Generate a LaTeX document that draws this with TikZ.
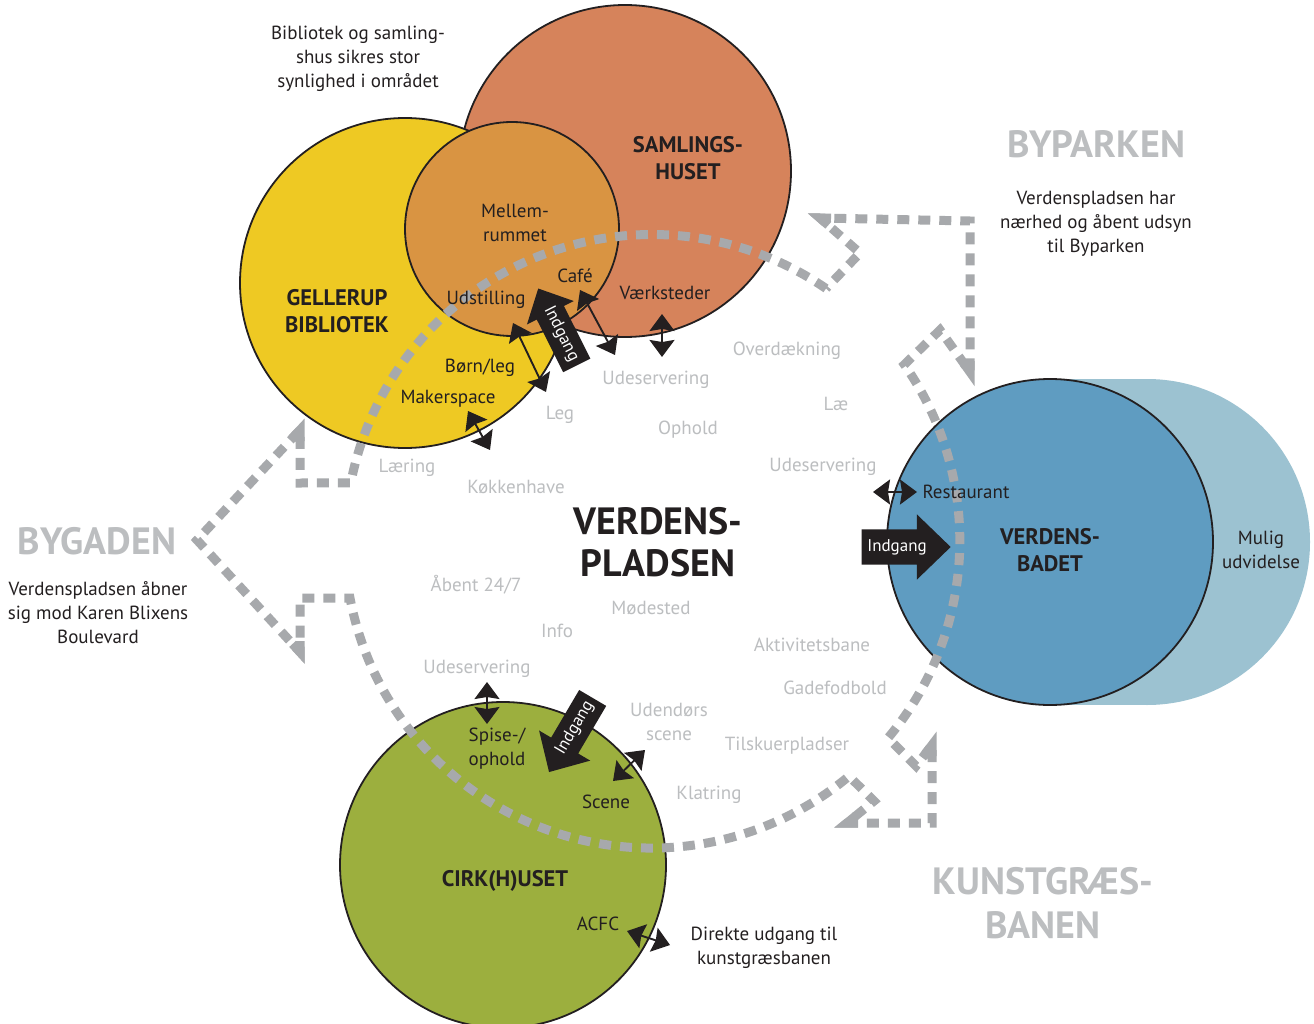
\documentclass[tikz,border=0pt]{standalone}
\usepackage{fontspec}
\setmainfont{PT Sans}
\usetikzlibrary{arrows.meta,shapes.arrows,calc}
\definecolor{samling}{HTML}{D6835B}
\definecolor{gelb}{HTML}{EEC923}
\definecolor{mellem}{HTML}{D99442}
\definecolor{badet}{HTML}{5F9CC1}
\definecolor{badetlys}{HTML}{9CC2D1}
\definecolor{cirk}{HTML}{9CAF3E}
\definecolor{ink}{HTML}{231F20}
\definecolor{pathgray}{HTML}{A7A9AC}
\definecolor{labgray}{HTML}{BCBEC0}
\begin{document}
\begin{tikzpicture}[x=1pt,y=-1pt,
  zone/.style={circle, draw=ink, line width=1.8pt, inner sep=0pt, outer sep=0pt},
  lbl/.style={text=ink, font=\fontsize{19}{24}\selectfont, align=center, inner sep=0pt},
  glbl/.style={text=labgray, font=\fontsize{19}{24}\selectfont, align=center, inner sep=0pt},
  hd/.style={text=ink, font=\bfseries\fontsize{22.5}{27}\selectfont, align=center, inner sep=0pt},
  bighd/.style={text=ink, font=\bfseries\fontsize{38}{42}\selectfont, align=center, inner sep=0pt},
  ghd/.style={text=labgray, font=\bfseries\fontsize{38}{44}\selectfont, align=center, inner sep=0pt},
  dbl/.style={draw=ink, line width=1.9pt, {Stealth[length=17pt,width=25pt,inset=2pt]}-{Stealth[length=17pt,width=25pt,inset=2pt]}},
  gate/.style={single arrow, fill=ink, text=white, font=\fontsize{17}{18}\selectfont,
    inner xsep=4pt, text height=12pt, text depth=4pt, single arrow tip angle=88},
  vpath/.style={draw=pathgray, line width=9pt, dash pattern=on 12pt off 9pt},
  tipc/.style={draw=pathgray, line width=9pt, line join=miter, miter limit=12}
]
\clip (0,0) rectangle (1314,1024);
\useasboundingbox (0,0) rectangle (1314,1024);
\fill[white] (0,0) rectangle (1314,1024);

% zones
\node[zone, fill=samling, minimum size=332pt] (samling) at (625,171) {};
\node[zone, fill=gelb, minimum size=330pt] (biblio) at (405,283) {};
\node[zone, fill=mellem, minimum size=214pt] (mellem) at (512,229) {};
\fill[badetlys] (1050,379) rectangle (1147,705);
\fill[badetlys] (1147,542) circle (163);
\node[zone, fill=badet, minimum size=326pt] (badet) at (1050,542) {};
\node[zone, fill=cirk, minimum size=326pt] (cirk) at (503,865) {};

% Verdenspladsen dashed boundary
\draw[vpath] (826,288.5) arc[start angle=-55.5, end angle=-169, radius=307]
  -- (300,483) -- (300,430) -- (197,540) -- (300,652) -- (300,598) -- (350,598)
  arc[start angle=169.3, end angle=50, radius=307]
  -- (874,801) -- (847,823) -- (932,823) -- (932,745) -- (916,766) -- (888,738)
  arc[start angle=40, end angle=-35, radius=307]
  -- (940,330) -- (970,372) -- (970,221) -- (820,218) -- (860,253) -- cycle;
% sharp corners
\coordinate (c1) at (300,430);
\coordinate (c2) at (300,652);
\coordinate (c3) at (820,218);
\coordinate (c4) at (970,372);
\coordinate (c5) at (932,745);
\coordinate (c6) at (847,823);
\draw[tipc] ($(c1)!11pt!(300,483)$) -- (c1) -- ($(c1)!11pt!(197,540)$);
\draw[tipc] ($(c2)!11pt!(300,598)$) -- (c2) -- ($(c2)!11pt!(197,540)$);
\draw[tipc] ($(c3)!11pt!(970,221)$) -- (c3) -- ($(c3)!11pt!(860,253)$);
\draw[tipc] ($(c4)!11pt!(970,221)$) -- (c4) -- ($(c4)!11pt!(940,330)$);
\draw[tipc] ($(c5)!11pt!(932,823)$) -- (c5) -- ($(c5)!11pt!(916,766)$);
\draw[tipc] ($(c6)!11pt!(932,823)$) -- (c6) -- ($(c6)!11pt!(874,801)$);

% entrance arrows
\node[gate, rotate=-63.4, shape border rotate=180, inner ysep=7pt,
  minimum height=86pt, single arrow head extend=11pt] (indbib) at (561,334) {Indgang};
\node[gate, inner ysep=9.5pt, minimum height=89pt, single arrow head extend=15pt]
  (indbad) at (897,547) {Indgang};
\node[gate, rotate=59.5, shape border rotate=180, inner ysep=7.5pt,
  minimum height=86pt, single arrow head extend=14pt] (indcirk) at (575,728) {Indgang};

% double arrows
\coordinate (a1s) at (513,323); \coordinate (a1e) at (546,392);
\coordinate (a2s) at (580,290); \coordinate (a2e) at (615,355);
\coordinate (a3s) at (662,314); \coordinate (a3e) at (662,357);
\coordinate (a4s) at (468,411); \coordinate (a4e) at (490,450);
\coordinate (a5s) at (873,492); \coordinate (a5e) at (917,492);
\coordinate (a6s) at (487,682); \coordinate (a6e) at (487,724);
\coordinate (a7s) at (613,781); \coordinate (a7e) at (645,750);
\coordinate (a8s) at (627,931); \coordinate (a8e) at (670,945);
\draw[dbl] (a1s) -- (a1e);
\draw[dbl] (a2s) -- (a2e);
\draw[dbl] (a3s) -- (a3e);
\draw[dbl] (a4s) -- (a4e);
\draw[dbl] (a5s) -- (a5e);
\draw[dbl] (a6s) -- (a6e);
\draw[dbl] (a7s) -- (a7e);
\draw[dbl] (a8s) -- (a8e);

% dark labels
\node[lbl] (t1) at (358,59) {Bibliotek og samling-\\shus sikres stor\\synlighed i området};
\node[hd] (t2) at (688,158.5) {SAMLINGS-\\HUSET};
\node[lbl] (t3) at (515,223) {Mellem-\\rummet};
\node[hd] (t4) at (337,311.5) {GELLERUP\\BIBLIOTEK};
\node[lbl] (t5) at (575,276) {Café};
\node[lbl] (t6) at (486,300) {Udstilling};
\node[lbl] (t7) at (665,293) {Værksteder};
\node[lbl] (t8) at (480,368) {Børn/leg};
\node[lbl] (t9) at (448,399) {Makerspace};
\node[bighd] (t10) at (658,542) {VERDENS-\\PLADSEN};
\node[lbl] (t11) at (966,492) {Restaurant};
\node[hd] (t12) at (1050,550) {VERDENS-\\BADET};
\node[lbl] (t13) at (1261,550) {Mulig\\udvidelse};
\node[lbl] (t14) at (497,749) {Spise-/\\ophold};
\node[lbl] (t15) at (606,802) {Scene};
\node[hd] (t16) at (505,881) {CIRK(H)USET};
\node[lbl] (t17) at (598,924) {ACFC};
\node[lbl] (t18) at (764,947.5) {Direkte udgang til\\kunstgræsbanen};
\node[lbl] (t19) at (1096,224) {Verdenspladsen har\\nærhed og åbent udsyn\\til Byparken};
\node[lbl] (t20) at (98,613) {Verdenspladsen åbner\\sig mod Karen Blixens\\Boulevard};

% gray headings
\node[ghd] (g1) at (1096,144) {BYPARKEN};
\node[ghd] (g2) at (97,541) {BYGADEN};
\node[ghd] (g3) at (1043,903) {KUNSTGRÆS-\\BANEN};

% gray labels
\node[glbl] (l1) at (787,351) {Overdækning};
\node[glbl] (l2) at (656,380) {Udeservering};
\node[glbl] (l3) at (836,404) {Læ};
\node[glbl] (l4) at (560,415) {Leg};
\node[glbl] (l5) at (688,430) {Ophold};
\node[glbl] (l6) at (823,467) {Udeservering};
\node[glbl] (l7) at (407,468) {Læring};
\node[glbl] (l8) at (516,487) {Køkkenhave};
\node[glbl] (l9) at (476,585) {Åbent 24/7};
\node[glbl] (l10) at (651,608) {Mødested};
\node[glbl] (l11) at (557,631) {Info};
\node[glbl] (l12) at (812,645) {Aktivitetsbane};
\node[glbl] (l13) at (477,669) {Udeservering};
\node[glbl] (l14) at (835,688) {Gadefodbold};
\node[glbl] (l15) at (669,722) {Udendørs\\scene};
\node[glbl] (l16) at (787,746) {Tilskuerpladser};
\node[glbl] (l17) at (709,795) {Klatring};
\end{tikzpicture}
\end{document}
